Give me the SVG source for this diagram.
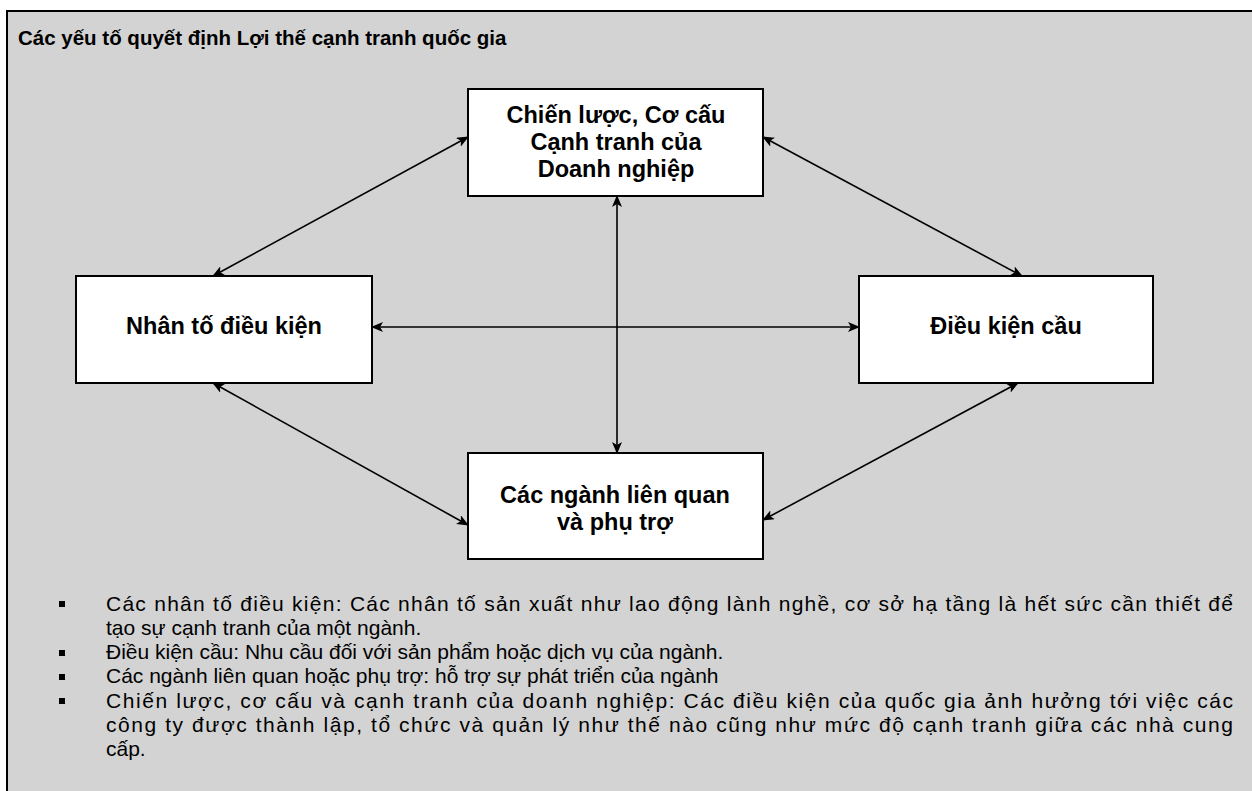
<svg xmlns="http://www.w3.org/2000/svg" width="1252" height="791" viewBox="0 0 1252 791">
<defs>
<marker id="ah" viewBox="0 0 12 10" refX="11" refY="5" markerWidth="12" markerHeight="10" markerUnits="userSpaceOnUse" orient="auto-start-reverse">
<path d="M0,0 L12,5 L0,10 L3,5 Z" fill="#000"/>
</marker>
<style>
.box{fill:#fff;stroke:#000;stroke-width:2}
.bt{font-family:"Liberation Sans",Arial,sans-serif;font-weight:bold;font-size:23.5px;fill:#000;text-anchor:middle}
.con{stroke:#000;stroke-width:1.6;fill:none;marker-start:url(#ah);marker-end:url(#ah)}
.tx{font-family:"Liberation Sans",Arial,sans-serif;font-size:21px;fill:#000}
.bul{fill:#000}
</style>
</defs>
<rect x="0" y="0" width="1252" height="791" fill="#fff"/>
<rect x="7" y="11" width="1260" height="800" fill="#d3d3d3" stroke="#000" stroke-width="2"/>
<text x="18" y="45" class="tx" style="font-weight:bold;font-size:20.5px">Các yếu tố quyết định Lợi thế cạnh tranh quốc gia</text>
<g id="connectors">
<line class="con" x1="468" y1="137" x2="213" y2="276"/>
<line class="con" x1="763" y1="137" x2="1022" y2="276"/>
<line class="con" x1="372" y1="327" x2="859" y2="327"/>
<line class="con" x1="617" y1="196" x2="617" y2="453"/>
<line class="con" x1="213" y1="383" x2="468" y2="525"/>
<line class="con" x1="1018" y1="383" x2="763" y2="520"/>
</g>
<g id="node-top">
<rect class="box" x="468" y="89" width="295" height="107"/>
<text class="bt" x="616" y="123">Chiến lược, Cơ cấu</text>
<text class="bt" x="616" y="150">Cạnh tranh của</text>
<text class="bt" x="616" y="177">Doanh nghiệp</text>
</g>
<g id="node-left">
<rect class="box" x="76" y="276" width="296" height="107"/>
<text class="bt" x="224" y="334">Nhân tố điều kiện</text>
</g>
<g id="node-right">
<rect class="box" x="859" y="276" width="294" height="107"/>
<text class="bt" x="1006" y="334">Điều kiện cầu</text>
</g>
<g id="node-bottom">
<rect class="box" x="468" y="453" width="295" height="106"/>
<text class="bt" x="615" y="503">Các ngành liên quan</text>
<text class="bt" x="615" y="530">và phụ trợ</text>
</g>
<g id="notes">
<rect class="bul" x="59" y="601" width="6" height="6"/>
<rect class="bul" x="59" y="650" width="6" height="6"/>
<rect class="bul" x="59" y="674" width="6" height="6"/>
<rect class="bul" x="59" y="698" width="6" height="6"/>
<text class="tx" x="106" y="611" textLength="1127" lengthAdjust="spacing">Các nhân tố điều kiện: Các nhân tố sản xuất như lao động lành nghề, cơ sở hạ tầng là hết sức cần thiết để</text>
<text class="tx" x="106" y="635">tạo sự cạnh tranh của một ngành.</text>
<text class="tx" x="106" y="659">Điều kiện cầu: Nhu cầu đối với sản phẩm hoặc dịch vụ của ngành.</text>
<text class="tx" x="106" y="683">Các ngành liên quan hoặc phụ trợ: hỗ trợ sự phát triển của ngành</text>
<text class="tx" x="106" y="708" textLength="1127" lengthAdjust="spacing">Chiến lược, cơ cấu và cạnh tranh của doanh nghiệp: Các điều kiện của quốc gia ảnh hưởng tới việc các</text>
<text class="tx" x="106" y="732" textLength="1127" lengthAdjust="spacing">công ty được thành lập, tổ chức và quản lý như thế nào cũng như mức độ cạnh tranh giữa các nhà cung</text>
<text class="tx" x="106" y="756">cấp.</text>
</g>
</svg>
